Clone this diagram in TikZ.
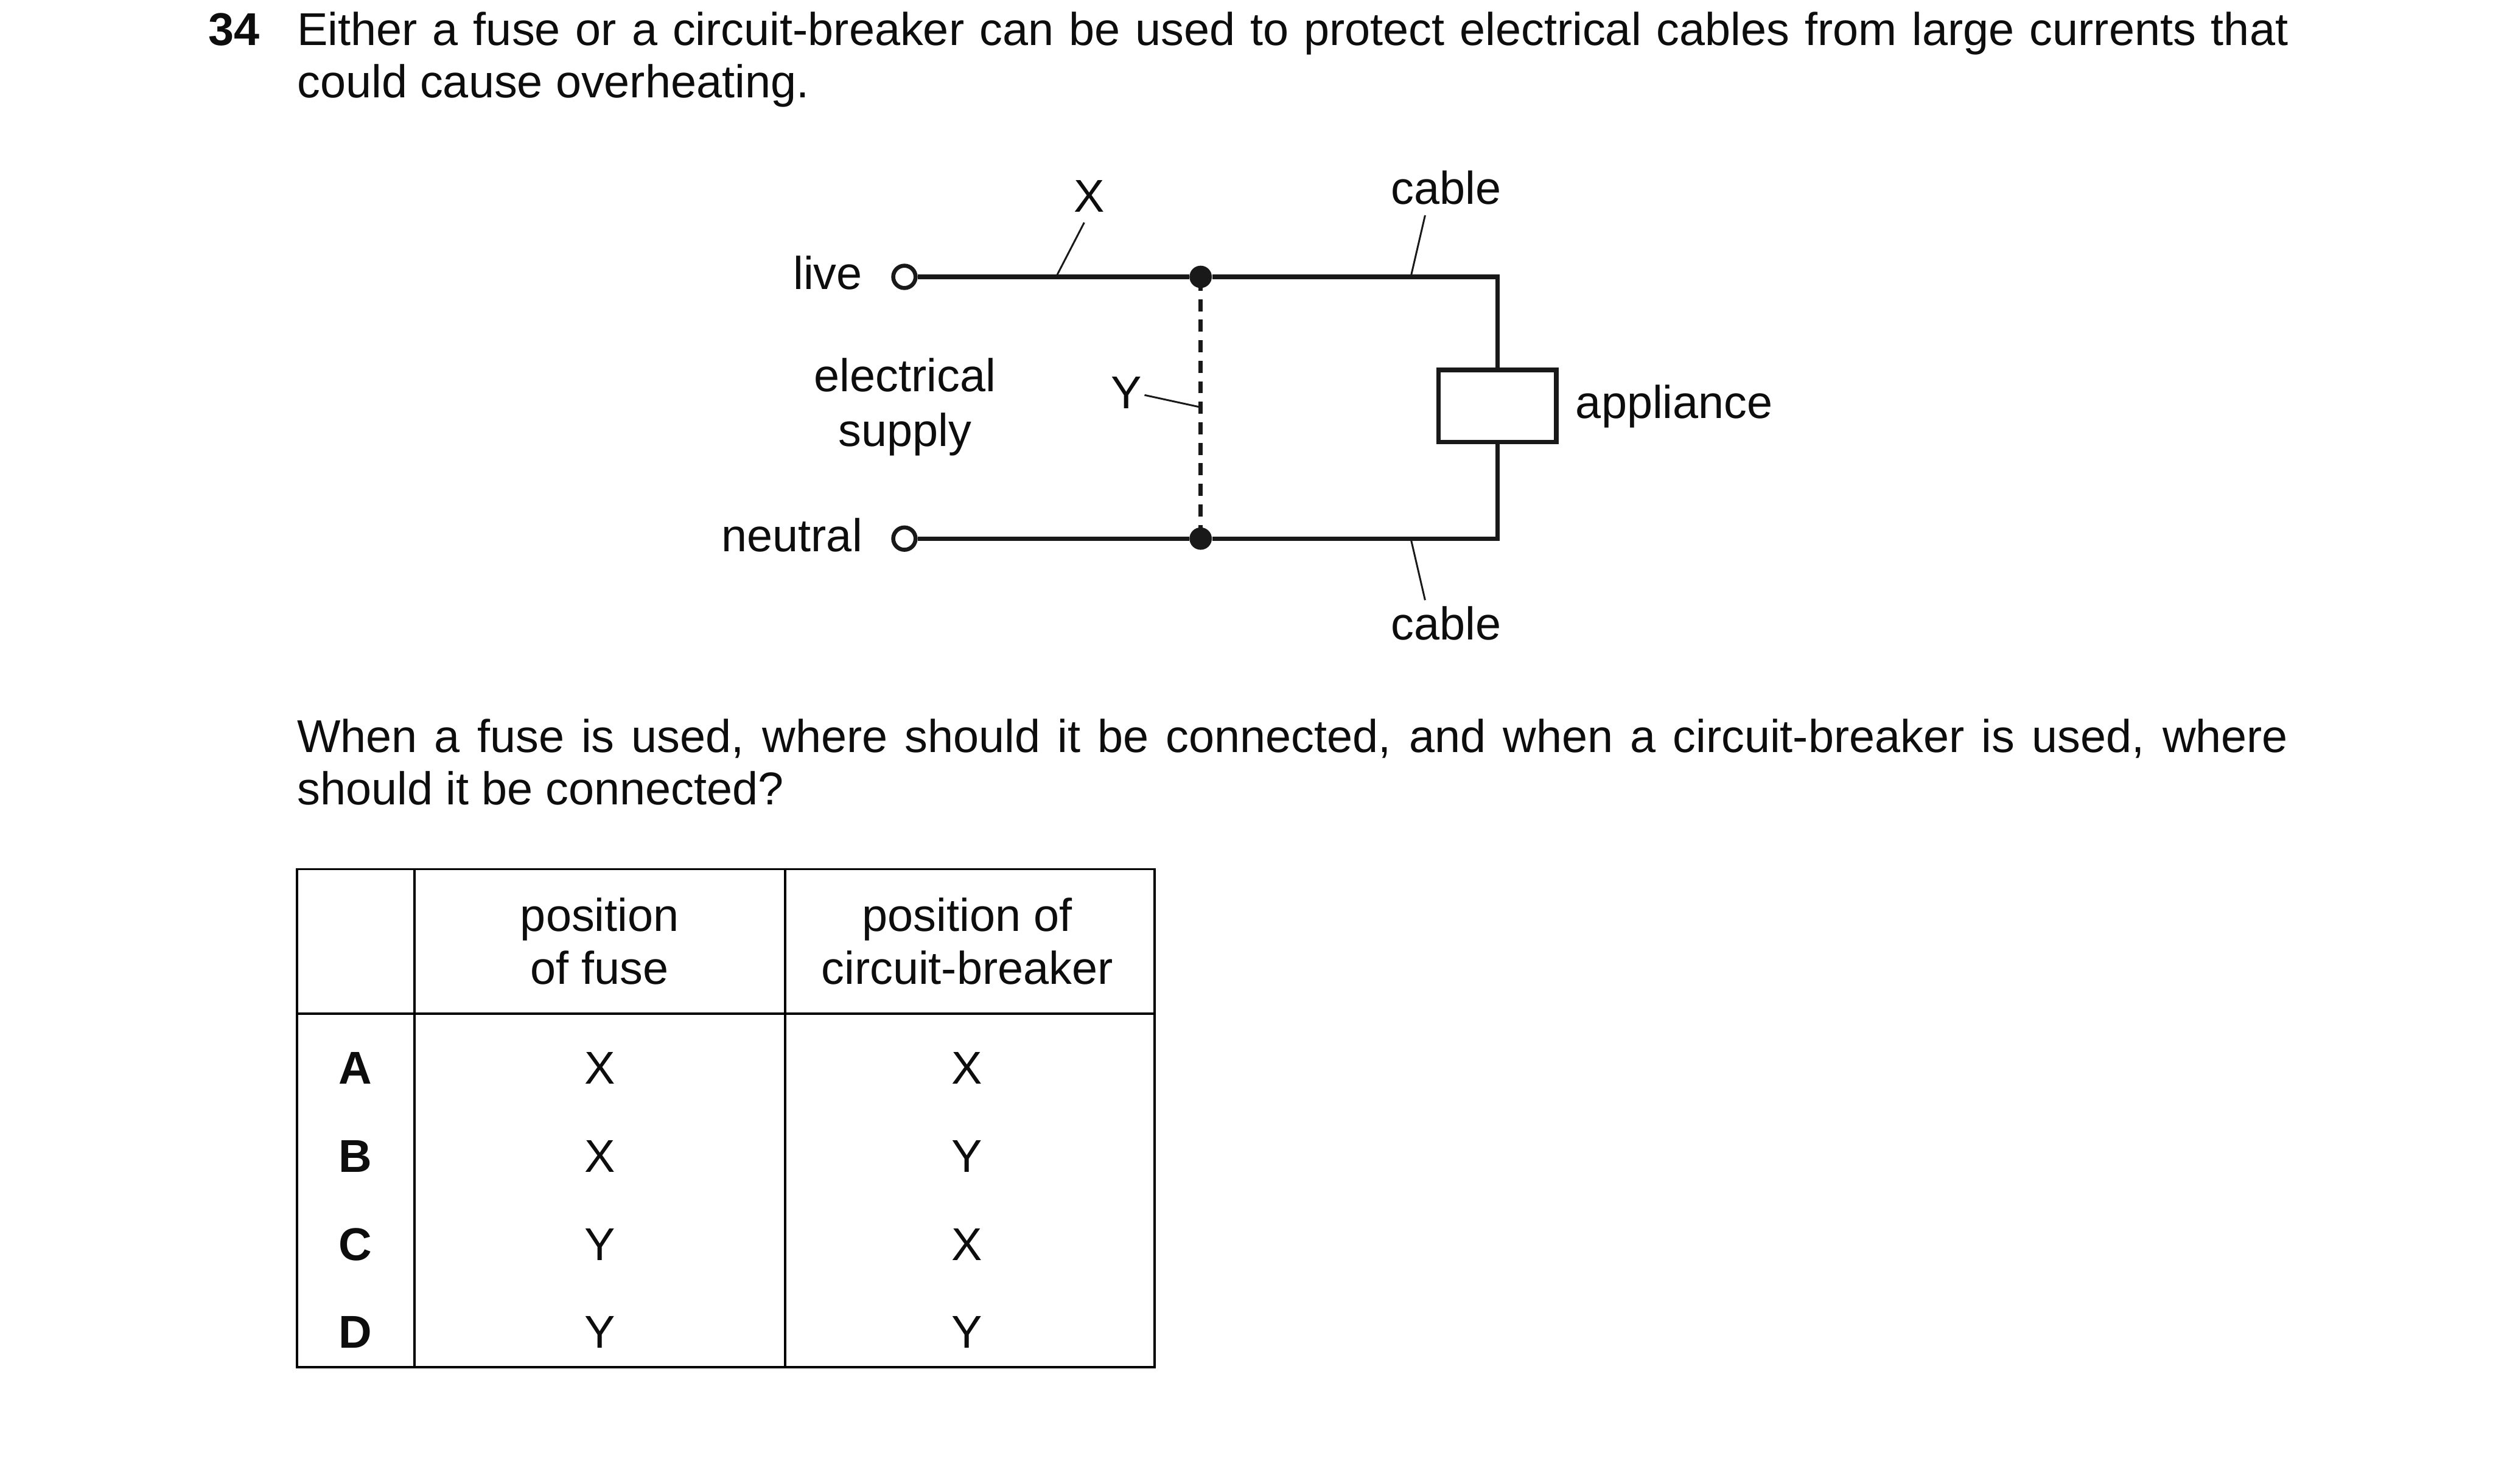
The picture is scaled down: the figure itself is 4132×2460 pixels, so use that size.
\documentclass[tikz,border=0pt]{standalone}
\usepackage{fontspec}
\setmainfont{Liberation Sans}
\usetikzlibrary{positioning}

\begin{document}
\begin{tikzpicture}[
 x=0.01cm, y=-0.01cm,
 txt/.style={rectangle, draw=none, inner sep=0pt, anchor=base, font=\fontsize{21.7pt}{24.7pt}\selectfont, text=black!95},
 para/.style={txt, anchor=base west, text width=32.98cm, align=justify},
 rowlab/.style={txt, font=\fontsize{21.7pt}{24.7pt}\selectfont\bfseries},
 wire/.style={line width=2.1pt, black!90},
 leader/.style={line width=0.85pt, black!90},
 tbl/.style={line width=1.1pt, black},
 term/.style={circle, draw=black!90, fill=white, line width=1.9pt, minimum size=0.37cm, inner sep=0pt},
 junc/.style={circle, fill=black!90, minimum size=0.37cm, inner sep=0pt},
]
\useasboundingbox (0,0) rectangle (4132,2460);

\node[txt, font=\fontsize{21.7pt}{24.7pt}\selectfont\bfseries, anchor=base west] (num) at (345,75) {34};
\node[para] (q1) at (492,75) {Either a fuse or a circuit-breaker can be used to protect electrical cables from large currents that\linebreak could cause overheating.};
\node[para] (q2) at (492,1247) {When a fuse is used, where should it be connected, and when a circuit-breaker is used, where\linebreak should it be connected?};

% Circuit
\node[term] (live) at (1499,459) {};
\node[term] (neutral) at (1499,893) {};
\node[junc] (jtop) at (1990,459) {};
\node[junc] (jbot) at (1990,893) {};
\node[rectangle, draw=black!90, line width=2.1pt, minimum width=1.95cm, minimum height=1.19cm, inner sep=0pt] (app) at (2482,673) {};
\coordinate (ctop) at (2482,459);
\coordinate (cbot) at (2482,893);

\draw[wire] (live) -- (jtop) -- (ctop) -- (app.north);
\draw[wire] (neutral) -- (jbot) -- (cbot) -- (app.south);
\draw[line width=2pt, black!90, dash pattern=on 5.7pt off 3.97pt, dash phase=8.8pt] (jtop.center) -- (jbot.center);

\node[txt, anchor=base east] (tlive) at (1430,480) {live};
\node[txt, anchor=base east] (tneutral) at (1430,914) {neutral};
\node[txt] (tsup1) at (1500,649) {electrical};
\node[txt] (tsup2) at (1500,740) {supply};
\node[txt] (tx) at (1805,352) {X};
\node[txt] (ty) at (1867,677) {Y};
\node[txt] (tc1) at (2397,338) {cable};
\node[txt] (tc2) at (2397,1061) {cable};
\node[txt, anchor=base west] (tapp) at (2611,694) {appliance};

% Leaders
\coordinate (xa) at (1797,369);
\coordinate (xb) at (1752,456);
\coordinate (c1a) at (2362,357);
\coordinate (c1b) at (2339,456);
\coordinate (c2a) at (2339,896);
\coordinate (c2b) at (2362,995);
\coordinate (ya) at (1897,655);
\coordinate (yb) at (1989,675);
\draw[leader] (xa) -- (xb);
\draw[leader] (c1a) -- (c1b);
\draw[leader] (c2a) -- (c2b);
\draw[leader] (ya) -- (yb);

% Table
\draw[tbl] (492,1441) rectangle (1914,2267);
\draw[tbl] (492,1681) -- (1914,1681);
\draw[tbl] (687,1441) -- (687,2267);
\draw[tbl] (1301,1441) -- (1301,2267);

\node[txt] (h1a) at (994,1544) {position};
\node[txt] (h1b) at (994,1632) {of fuse};
\node[txt] (h2a) at (1603,1544) {position of};
\node[txt] (h2b) at (1603,1632) {circuit-breaker};

\node[rowlab] (ra) at (589,1797) {A};
\node[txt] (ra1) at (994,1797) {X};
\node[txt] (ra2) at (1603,1797) {X};
\node[rowlab] (rb) at (589,1943) {B};
\node[txt] (rb1) at (994,1943) {X};
\node[txt] (rb2) at (1603,1943) {Y};
\node[rowlab] (rc) at (589,2090) {C};
\node[txt] (rc1) at (994,2090) {Y};
\node[txt] (rc2) at (1603,2090) {X};
\node[rowlab] (rd) at (589,2235) {D};
\node[txt] (rd1) at (994,2235) {Y};
\node[txt] (rd2) at (1603,2235) {Y};

\end{tikzpicture}
\end{document}
